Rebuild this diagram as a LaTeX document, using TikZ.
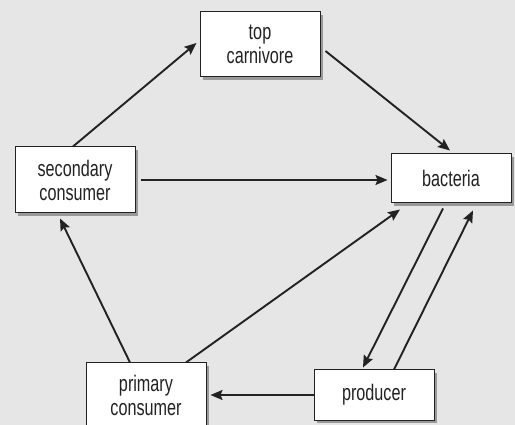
\documentclass[tikz,border=0pt]{standalone}
\usepackage{fontspec}
\setmainfont{Liberation Sans}[FakeStretch=0.72]
\usetikzlibrary{shadows,arrows.meta}
\definecolor{bg}{HTML}{E6E6E6}
\definecolor{ink}{HTML}{222222}
\tikzset{
  box/.style={draw=ink, line width=1pt, fill=white, minimum width=120pt,
    inner sep=0pt, align=center, font=\fontsize{22.5}{24}\selectfont, text=ink,
    drop shadow={shadow xshift=3pt, shadow yshift=-3pt, fill=black!40, opacity=1}},
  arr/.style={draw=ink, line width=1.9pt, -{Stealth[length=12pt, width=10pt, inset=2pt]}}
}
\begin{document}
\begin{tikzpicture}[x=1pt, y=-1pt]
  \fill[bg] (0,0) rectangle (515,425);
  \useasboundingbox (0,0) rectangle (515,425);

  \node[box, minimum height=65pt] (top) at (260,44.5) {top\\carnivore};
  \node[box, minimum height=66pt] (sec) at (75,180) {secondary\\consumer};
  \node[box, minimum height=49pt] (bact) at (451,178.5) {bacteria};
  \node[box, minimum height=64pt] (prim) at (146,395) {primary\\consumer};
  \node[box, minimum height=50pt] (prod) at (374,395) {producer};

  \draw[arr] ([shift={(-2,0)}]sec.north) -- ([shift={(-3,-1.5)}]top.west);
  \draw[arr] ([shift={(5,6.5)}]top.east) -- ([shift={(-1,-3)}]bact.north);
  \draw[arr] ([shift={(5,0)}]sec.east) -- ([shift={(-3,1.5)}]bact.west);
  \draw[arr] ([shift={(-16,0)}]prim.north) -- ([shift={(-15,5)}]sec.south);
  \draw[arr] ([shift={(40,0)}]prim.north) -- ([shift={(-51,6)}]bact.south);
  \draw[arr] ([shift={(-8,5)}]bact.south) -- ([shift={(-11,-2)}]prod.north);
  \draw[arr] ([shift={(20,0)}]prod.north) -- ([shift={(22,7)}]bact.south);
  \draw[arr] (prod.west) -- ([shift={(4,0)}]prim.east);
\end{tikzpicture}
\end{document}
